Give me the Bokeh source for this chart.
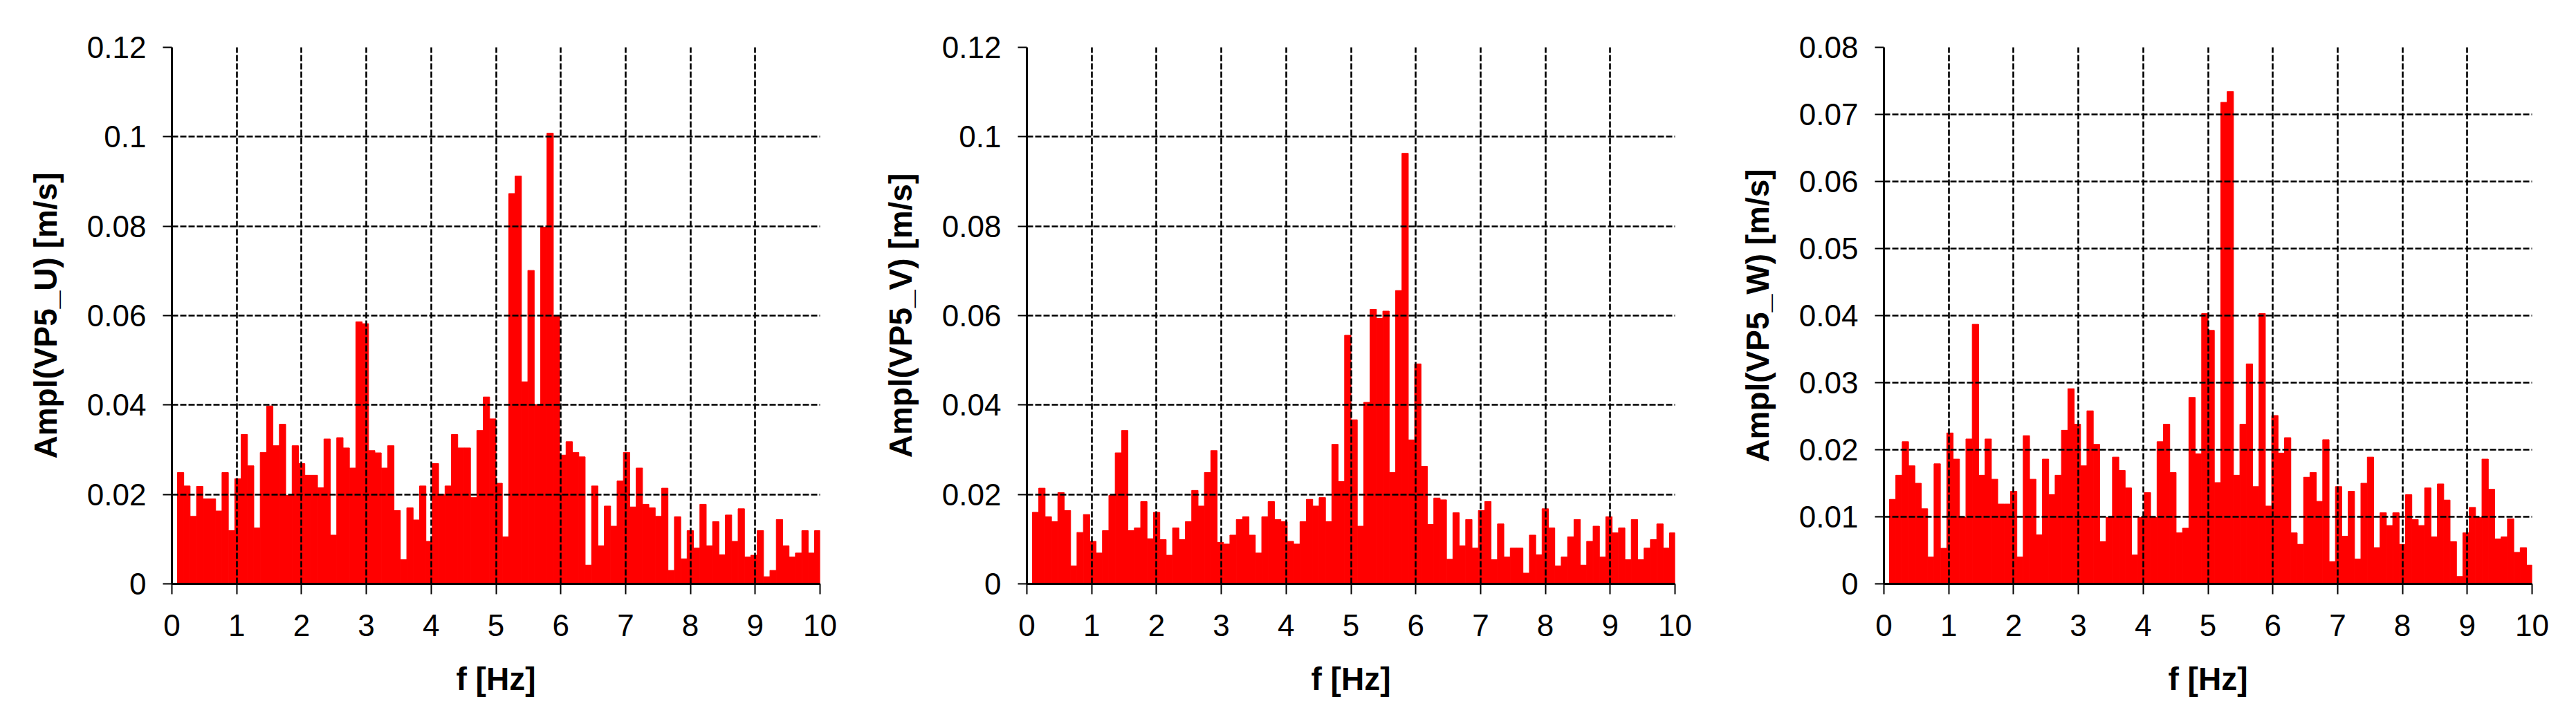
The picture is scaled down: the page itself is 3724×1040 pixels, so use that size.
from bokeh.plotting import figure
from bokeh.models import Range1d, FixedTicker, Title
from bokeh.layouts import row
from bokeh.embed import file_html
from bokeh.resources import INLINE

# FFT bin centre frequencies [Hz]
freq_hz = [0.134, 0.232, 0.331, 0.429, 0.527, 0.626, 0.724, 0.822, 0.921, 1.019,
           1.117, 1.215, 1.314, 1.412, 1.510, 1.609, 1.707, 1.805, 1.904, 2.002,
           2.100, 2.198, 2.297, 2.395, 2.493, 2.592, 2.690, 2.788, 2.887, 2.985,
           3.083, 3.181, 3.280, 3.378, 3.476, 3.575, 3.673, 3.771, 3.870, 3.968,
           4.066, 4.164, 4.263, 4.361, 4.459, 4.558, 4.656, 4.754, 4.853, 4.951,
           5.049, 5.147, 5.246, 5.344, 5.442, 5.541, 5.639, 5.737, 5.836, 5.934,
           6.032, 6.130, 6.229, 6.327, 6.425, 6.524, 6.622, 6.720, 6.819, 6.917,
           7.015, 7.113, 7.212, 7.310, 7.408, 7.507, 7.605, 7.703, 7.802, 7.900,
           7.998, 8.096, 8.195, 8.293, 8.391, 8.490, 8.588, 8.686, 8.785, 8.883,
           8.981, 9.079, 9.178, 9.276, 9.374, 9.473, 9.571, 9.669, 9.768, 9.866,
           9.964]
bin_width_hz = 0.0983

amp_u = [0.0249, 0.0219, 0.0151, 0.0218, 0.019, 0.019, 0.0163, 0.0249, 0.0119, 0.0235,
         0.0334, 0.0264, 0.0125, 0.0294, 0.0398, 0.0309, 0.0357, 0.0198, 0.0309, 0.0269,
         0.0243, 0.0243, 0.0215, 0.0324, 0.0109, 0.0327, 0.0304, 0.0259, 0.0586, 0.0582,
         0.0298, 0.0293, 0.0259, 0.0309, 0.0164, 0.0054, 0.017, 0.0143, 0.0219, 0.0095,
         0.0269, 0.020, 0.0219, 0.0334, 0.0304, 0.0304, 0.0193, 0.0343, 0.0418, 0.0369,
         0.0225, 0.0105, 0.0873, 0.0912, 0.0452, 0.0701, 0.0401, 0.0798, 0.1008, 0.06,
         0.0288, 0.0318, 0.0294, 0.0284, 0.0042, 0.0219, 0.0085, 0.0174, 0.0129, 0.023,
         0.0294, 0.0172, 0.0259, 0.0178, 0.017, 0.0151, 0.0214, 0.003, 0.015, 0.0056,
         0.0119, 0.008, 0.0178, 0.0085, 0.0139, 0.0065, 0.0154, 0.0095, 0.0168, 0.006,
         0.0064, 0.0119, 0.0016, 0.003, 0.0144, 0.0085, 0.006, 0.0069, 0.0119, 0.0069,
         0.0119]

amp_v = [0.016, 0.0214, 0.015, 0.0139, 0.0204, 0.0164, 0.004, 0.0115, 0.0155, 0.0095,
         0.0069, 0.0119, 0.0198, 0.0293, 0.0343, 0.0119, 0.0125, 0.0184, 0.0101, 0.016,
         0.0099, 0.0064, 0.0125, 0.0099, 0.0139, 0.0209, 0.0174, 0.0249, 0.0298, 0.0093,
         0.0089, 0.0109, 0.0144, 0.015, 0.0109, 0.0069, 0.015, 0.0184, 0.0144, 0.0139,
         0.0095, 0.0089, 0.0139, 0.0189, 0.0174, 0.0193, 0.0139, 0.0312, 0.0229, 0.0556,
         0.0367, 0.0129, 0.0406, 0.0614, 0.0594, 0.061, 0.0249, 0.0656, 0.0963, 0.0322,
         0.0492, 0.0263, 0.0133, 0.0192, 0.0188, 0.0055, 0.0159, 0.0085, 0.0144, 0.008,
         0.0164, 0.0184, 0.0054, 0.0134, 0.006, 0.008, 0.008, 0.0024, 0.0109, 0.0065,
         0.0168, 0.0125, 0.004, 0.006, 0.0105, 0.0144, 0.0042, 0.0095, 0.0129, 0.006,
         0.015, 0.0114, 0.0125, 0.0054, 0.0144, 0.0054, 0.008, 0.0099, 0.0134, 0.008,
         0.0114]

amp_w = [0.0126, 0.0162, 0.0212, 0.0176, 0.015, 0.0112, 0.004, 0.0179, 0.0053, 0.0225,
         0.0186, 0.0099, 0.0216, 0.0387, 0.0162, 0.0216, 0.0156, 0.0119, 0.0119, 0.0138,
         0.004, 0.0221, 0.0156, 0.0073, 0.0186, 0.0133, 0.0162, 0.0229, 0.0291, 0.0238,
         0.0176, 0.0258, 0.0208, 0.0063, 0.0099, 0.0189, 0.0169, 0.0143, 0.0043, 0.0099,
         0.0136, 0.0099, 0.0212, 0.0238, 0.0166, 0.0076, 0.0083, 0.0278, 0.0194, 0.0403,
         0.0378, 0.0151, 0.0718, 0.0734, 0.0162, 0.0238, 0.0328, 0.0145, 0.0403, 0.0116,
         0.0251, 0.0195, 0.0218, 0.0076, 0.0059, 0.0159, 0.0166, 0.0123, 0.0215, 0.0033,
         0.0145, 0.0071, 0.0138, 0.0037, 0.015, 0.0189, 0.0054, 0.0106, 0.0087, 0.0106,
         0.0059, 0.0133, 0.0096, 0.0087, 0.0143, 0.007, 0.0149, 0.0125, 0.0063, 0.0011,
         0.0076, 0.0114, 0.0099, 0.0186, 0.0141, 0.0067, 0.007, 0.0097, 0.0047, 0.0054,
         0.0028]

x_ticks = [0, 1, 2, 3, 4, 5, 6, 7, 8, 9, 10]
y_ticks_uv = [0, 0.02, 0.04, 0.06, 0.08, 0.1, 0.12]
y_labels_uv = ["0", "0.02", "0.04", "0.06", "0.08", "0.1", "0.12"]
y_ticks_w = [0, 0.01, 0.02, 0.03, 0.04, 0.05, 0.06, 0.07, 0.08]
y_labels_w = ["0", "0.01", "0.02", "0.03", "0.04", "0.05", "0.06", "0.07", "0.08"]

x_title = "f [Hz]"
y_titles = ["Ampl(VP5_U) [m/s]", "Ampl(VP5_V) [m/s]", "Ampl(VP5_W) [m/s]"]

FONT = "Liberation Sans"


def make_panel(amps, ylabel, y_max, y_ticks, y_labels, border_right):
    p = figure(frame_width=937, frame_height=776,
               x_range=Range1d(0, 10), y_range=Range1d(0, y_max),
               output_backend="svg", toolbar_location=None,
               min_border_left=248, min_border_right=border_right,
               min_border_top=68, min_border_bottom=180,
               background_fill_color="white", border_fill_color="white")
    p.outline_line_color = None
    p.vbar(x=freq_hz, top=amps, bottom=0, width=bin_width_hz,
           fill_color="#FF0000", line_color="#FF0000", line_width=1)

    for g, ticks in ((p.xgrid, x_ticks), (p.ygrid, y_ticks)):
        g.ticker = FixedTicker(ticks=ticks)
        g.grid_line_color = "#000000"
        g.grid_line_width = 2.6
        g.grid_line_dash = "9 3"
        g.level = "overlay"

    xa = p.xaxis[0]
    xa.ticker = FixedTicker(ticks=x_ticks)
    xa.axis_line_width = 3
    xa.axis_line_color = "black"
    xa.major_tick_out = 15
    xa.major_tick_in = 0
    xa.major_tick_line_width = 2
    xa.minor_tick_out = 0
    xa.minor_tick_in = 0
    xa.major_label_standoff = 29
    xa.major_label_text_font = FONT
    xa.major_label_text_font_size = "44px"
    xa.major_label_text_color = "black"

    ya = p.yaxis[0]
    ya.ticker = FixedTicker(ticks=y_ticks)
    ya.major_label_overrides = {t: l for t, l in zip(y_ticks, y_labels)}
    ya.axis_line_width = 3
    ya.axis_line_color = "black"
    ya.major_tick_out = 13
    ya.major_tick_in = 0
    ya.major_tick_line_width = 2
    ya.minor_tick_out = 0
    ya.minor_tick_in = 0
    ya.major_label_standoff = 24
    ya.major_label_text_font = FONT
    ya.major_label_text_font_size = "44px"
    ya.major_label_text_color = "black"
    ya.axis_label = ylabel
    ya.axis_label_text_font = FONT
    ya.axis_label_text_font_size = "46px"
    ya.axis_label_text_font_style = "bold"
    ya.axis_label_text_color = "black"
    ya.axis_label_standoff = 31

    t = Title(text=x_title, align="center", offset=-47,
              text_font=FONT, text_font_size="46px", text_font_style="bold",
              text_color="black")
    if "standoff" in Title.properties():
        t.standoff = 62
    p.add_layout(t, "below")
    return p


p1 = make_panel(amp_u, y_titles[0], 0.12, y_ticks_uv, y_labels_uv, 51)
p2 = make_panel(amp_v, y_titles[1], 0.12, y_ticks_uv, y_labels_uv, 54)
p3 = make_panel(amp_w, y_titles[2], 0.08, y_ticks_w, y_labels_w, 48)

layout = row(p1, p2, p3)
open("out.html", "w").write(file_html(layout, INLINE))
